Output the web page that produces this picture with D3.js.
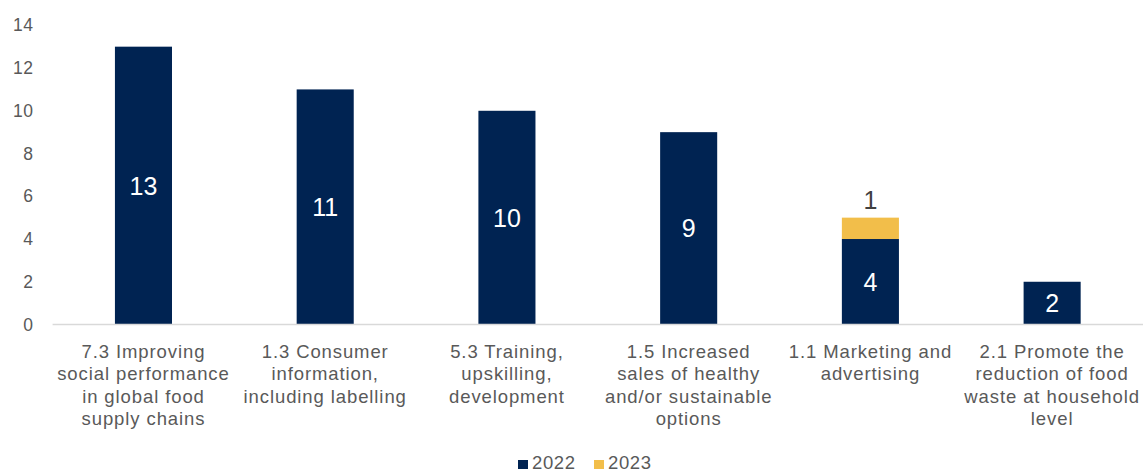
<!DOCTYPE html>
<html>
<head>
<meta charset="utf-8">
<script src="https://cdn.jsdelivr.net/npm/d3@7"></script>
<style>
  html, body { margin: 0; padding: 0; background: #fff; }
  svg { display: block; font-family: "Liberation Sans", Arial, sans-serif; }
</style>
</head>
<body>
<svg id="chart" width="1143" height="471"></svg>
<script>
// Categories (each entry is a list of wrapped label lines)
const categories = [
  ["7.3 Improving", "social performance", "in global food", "supply chains"],
  ["1.3 Consumer", "information,", "including labelling"],
  ["5.3 Training,", "upskilling,", "development"],
  ["1.5 Increased", "sales of healthy", "and/or sustainable", "options"],
  ["1.1 Marketing and", "advertising"],
  ["2.1 Promote the", "reduction of food", "waste at household", "level"]
];
const series2022 = [13, 11, 10, 9, 4, 2];
const series2023 = [0, 0, 0, 0, 1, 0];
const seriesNames = ["2022", "2023"];
const yTicks = [0, 2, 4, 6, 8, 10, 12, 14];

const colors = { "2022": "#002352", "2023": "#F2BE4A" };

const svg = d3.select("#chart");
const margin = { left: 52.6, right: 0, top: 25.3, bottom: 146.5 };
const W = 1143, H = 471;

const x = d3.scaleBand()
  .domain(d3.range(categories.length))
  .range([margin.left, W - margin.right])
  .padding(0);

const y = d3.scaleLinear()
  .domain([0, 14])
  .range([H - margin.bottom, margin.top]);

const barW = x.bandwidth() * 0.314;

// Y axis tick labels (no axis line, no ticks)
const yAxis = svg.append("g")
  .attr("transform", `translate(${margin.left - 19.4},0)`)
  .call(d3.axisLeft(y).tickValues(yTicks).tickSize(0).tickPadding(0));
yAxis.select(".domain").remove();
yAxis.selectAll("text")
  .attr("fill", "#595959")
  .style("font-size", "17.5px")
  .style("letter-spacing", "0.3px")
  .style("font-family", "Liberation Sans, Arial, sans-serif");

// Stacked data
const stackData = categories.map((c, i) => ({ i, "2022": series2022[i], "2023": series2023[i] }));
const stacked = d3.stack().keys(seriesNames)(stackData);

const cx = i => x(i) + x.bandwidth() / 2;

svg.append("g").selectAll("g")
  .data(stacked)
  .join("g")
  .attr("fill", d => colors[d.key])
  .selectAll("rect")
  .data(d => d.filter(p => p[1] - p[0] > 0))
  .join("rect")
  .attr("x", d => cx(d.data.i) - barW / 2)
  .attr("width", barW)
  .attr("y", d => y(d[1]))
  .attr("height", d => y(d[0]) - y(d[1]));

// Baseline
svg.append("line")
  .attr("x1", margin.left).attr("x2", W)
  .attr("y1", y(0)).attr("y2", y(0))
  .attr("stroke", "#d9d9d9").attr("stroke-width", 1.5);

// Value labels for 2022 (centered inside bars)
svg.append("g").selectAll("text")
  .data(stacked[0])
  .join("text")
  .attr("x", d => cx(d.data.i))
  .attr("y", d => (y(d[0]) + y(d[1])) / 2)
  .attr("dy", "0.36em")
  .attr("text-anchor", "middle")
  .attr("fill", "#ffffff")
  .style("font-size", "25px")
  .text(d => d.data["2022"]);

// Value labels for 2023 (above the segment)
svg.append("g").selectAll("text")
  .data(stacked[1].filter(d => d[1] - d[0] > 0))
  .join("text")
  .attr("x", d => cx(d.data.i))
  .attr("y", d => y(d[1]) - 18)
  .attr("dy", "0.36em")
  .attr("text-anchor", "middle")
  .attr("fill", "#404040")
  .style("font-size", "25px")
  .text(d => d.data["2023"]);

// Category labels
const catG = svg.append("g");
categories.forEach((lines, i) => {
  const t = catG.append("text")
    .attr("text-anchor", "middle")
    .attr("fill", "#595959")
    .style("font-size", "18.5px")
    .style("letter-spacing", "0.9px");
  lines.forEach((ln, k) => {
    t.append("tspan")
      .attr("x", cx(i))
      .attr("y", y(0) + 33.5 + k * 22.4)
      .text(ln);
  });
});

// Legend
const legend = svg.append("g");
const legendItems = [
  { key: "2022", sx: 518, tx: 532 },
  { key: "2023", sx: 594, tx: 608 }
];
legendItems.forEach(it => {
  legend.append("rect")
    .attr("x", it.sx).attr("y", 460)
    .attr("width", 10).attr("height", 9)
    .attr("fill", colors[it.key]);
  legend.append("text")
    .attr("x", it.tx).attr("y", 468.5)
    .attr("fill", "#595959")
    .style("font-size", "18.5px")
    .style("letter-spacing", "0.6px")
    .text(it.key);
});
</script>
</body>
</html>
